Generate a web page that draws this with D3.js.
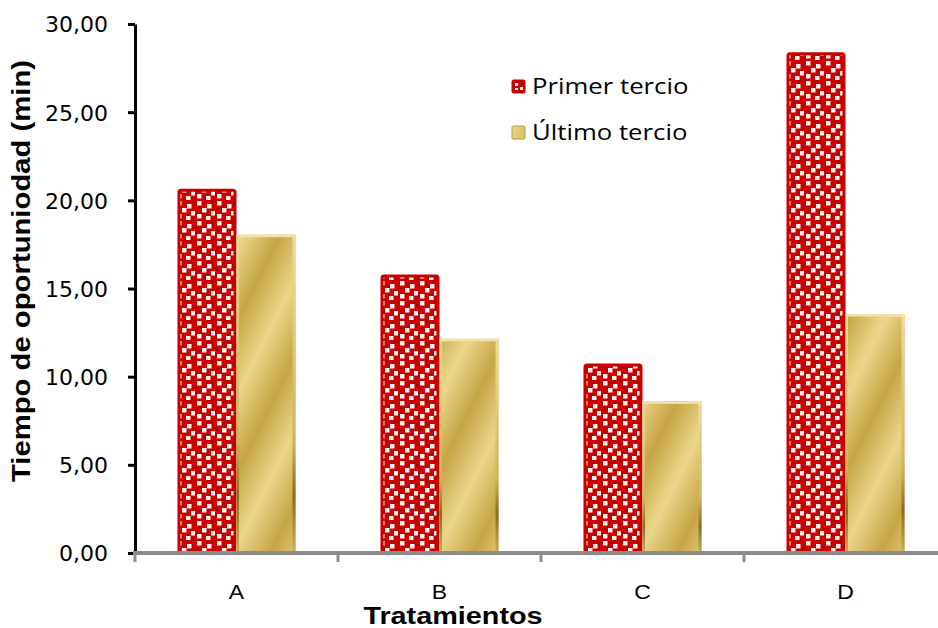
<!DOCTYPE html>
<html>
<head>
<meta charset="utf-8">
<script src="https://cdn.jsdelivr.net/npm/d3@7"></script>
<style>
  html, body { margin: 0; padding: 0; background: #fff; }
  svg { display: block; }
</style>
</head>
<body>
<svg id="chart"></svg>
<script>
// data
const categories = ["A", "B", "C", "D"];
const series = ["Primer tercio", "Último tercio"];
const primerTercio = [20.65, 15.8, 10.75, 28.4];
const ultimoTercio = [18.05, 12.15, 8.6, 13.55];
const yTicks = [0, 5, 10, 15, 20, 25, 30];

const width = 938, height = 628;
const svg = d3.select("#chart").attr("width", width).attr("height", height);
const defs = svg.append("defs");

// red confetti pattern
const pat = defs.append("pattern")
	.attr("id", "dots")
	.attr("patternUnits", "userSpaceOnUse")
	.attr("width", 20).attr("height", 20);
pat.append("rect").attr("width", 20).attr("height", 20).attr("fill", "#c80000");
[[2, 1], [12, 4], [7, 8], [16, 11], [2, 14], [11, 16]].forEach(p =>
	pat.append("rect").attr("x", p[0]).attr("y", p[1]).attr("width", 4.5).attr("height", 4.5)
		.attr("fill", "#fff2f2"));

// gold diagonal gradient
const gold = defs.append("linearGradient")
	.attr("id", "gold")
	.attr("gradientUnits", "userSpaceOnUse")
	.attr("x1", 0).attr("y1", 0).attr("x2", 30).attr("y2", 15)
	.attr("spreadMethod", "reflect");
[["0%", "#ead68a"], ["100%", "#c6a546"]].forEach(s =>
	gold.append("stop").attr("offset", s[0]).attr("stop-color", s[1]));

const goldEdge = defs.append("linearGradient")
	.attr("id", "goldEdge").attr("x1", 0).attr("y1", 0).attr("x2", 0).attr("y2", 1);
[["0%", "#f0dc98"], ["65%", "#d2b258"], ["82%", "#8a6a1e"], ["100%", "#d0ae55"]].forEach(s =>
	goldEdge.append("stop").attr("offset", s[0]).attr("stop-color", s[1]));

// scales
const x = d3.scaleBand().domain(categories).range([135, 135 + 4 * 203]).paddingInner(0).paddingOuter(0);
const xs = d3.scaleBand().domain(series).range([0, x.bandwidth()]).paddingInner(0).paddingOuter(0.72);
const y = d3.scaleLinear().domain([0, 30]).range([553, 24]);

const rows = categories.map((c, i) => ({ cat: c, vals: [primerTercio[i], ultimoTercio[i]] }));

const groups = svg.selectAll(".grp")
	.data(rows)
	.join("g")
	.attr("class", "grp")
	.attr("transform", d => `translate(${x(d.cat)},0)`);

// red bars
groups.append("rect")
	.attr("x", xs(series[0]) + 1.5)
	.attr("y", d => y(d.vals[0]) + 1.5)
	.attr("width", xs.bandwidth() - 3)
	.attr("height", d => y(0) - y(d.vals[0]) - 1.5)
	.attr("rx", 2)
	.attr("fill", "url(#dots)")
	.attr("stroke", "#c80000")
	.attr("stroke-width", 3);

// gold bars
groups.append("rect")
	.attr("x", xs(series[1]))
	.attr("y", d => y(d.vals[1]))
	.attr("width", xs.bandwidth())
	.attr("height", d => y(0) - y(d.vals[1]))
	.attr("fill", "url(#gold)");
groups.append("rect")
	.attr("x", xs(series[1]))
	.attr("y", d => y(d.vals[1]))
	.attr("width", 2.5)
	.attr("height", d => y(0) - y(d.vals[1]))
	.attr("fill", "url(#goldEdge)");
groups.append("rect")
	.attr("x", xs(series[1]) + xs.bandwidth() - 3)
	.attr("y", d => y(d.vals[1]))
	.attr("width", 3)
	.attr("height", d => y(0) - y(d.vals[1]))
	.attr("fill", "url(#goldEdge)");
groups.append("rect")
	.attr("x", xs(series[1]))
	.attr("y", d => y(d.vals[1]))
	.attr("width", xs.bandwidth())
	.attr("height", 2.5)
	.attr("fill", "#f5e2a8");

// y axis
const yAxis = svg.append("g")
	.attr("transform", "translate(135,0)")
	.call(d3.axisLeft(y).tickValues(yTicks).tickSize(7).tickSizeOuter(0)
		.tickFormat(d => d3.format(".2f")(d).replace(".", ",")));
yAxis.select(".domain").attr("stroke", "#000").attr("stroke-width", 3);
yAxis.selectAll(".tick line").attr("stroke", "#000").attr("stroke-width", 3);
yAxis.selectAll(".tick text")
	.attr("x", -27)
	.attr("dy", "0.36em")
	.attr("font-family", "DejaVu Sans")
	.attr("font-size", 22)
	.attr("fill", "#000");

// x axis
const xAxis = svg.append("g")
	.attr("transform", "translate(0,553)");
xAxis.append("line")
	.attr("x1", 133).attr("x2", width).attr("y1", 0).attr("y2", 0)
	.attr("stroke", "#8c8c8c").attr("stroke-width", 4);
xAxis.selectAll(".xt")
	.data(categories.concat(["end"]))
	.join("line")
	.attr("class", "xt")
	.attr("x1", (d, i) => 135 + i * x.step())
	.attr("x2", (d, i) => 135 + i * x.step())
	.attr("y1", 0).attr("y2", 9)
	.attr("stroke", "#8c8c8c").attr("stroke-width", 3);
xAxis.selectAll(".xl")
	.data(categories)
	.join("text")
	.attr("class", "xl")
	.attr("transform", d => `translate(${x(d) + x.bandwidth() / 2},46) scale(1.15,1)`)
	.attr("text-anchor", "middle")
	.attr("font-family", "Liberation Sans")
	.attr("font-size", 20)
	.text(d => d);

// axis titles
svg.append("text")
	.attr("transform", "translate(453,624) scale(1.2,1)")
	.attr("text-anchor", "middle")
	.attr("font-family", "Liberation Sans")
	.attr("font-weight", "bold")
	.attr("font-size", 24)
	.text("Tratamientos");

svg.append("text")
	.attr("transform", "translate(30,271) rotate(-90) scale(1.22,1.1)")
	.attr("text-anchor", "middle")
	.attr("font-family", "Liberation Sans")
	.attr("font-weight", "bold")
	.attr("font-size", 24)
	.text("Tiempo de oportuniodad (min)");

// legend
const legend = svg.append("g").attr("transform", "translate(512,80)");
const li = legend.selectAll(".li")
	.data(series)
	.join("g")
	.attr("class", "li")
	.attr("transform", (d, i) => `translate(0,${i * 46})`);
li.append("rect")
	.attr("width", 13).attr("height", 13)
	.attr("rx", 1.5)
	.attr("fill", (d, i) => i === 0 ? "#c80000" : "url(#gold)")
	.attr("stroke", (d, i) => i === 0 ? "#c80000" : "#b8963a");
li.filter((d, i) => i === 0).append("path")
	.attr("d", "M3,3h3v3h-3zM8,7h3v3h-3zM3,8h3v2h-3z")
	.attr("fill", "#fff");
li.append("text")
	.attr("transform", "translate(20,14) scale(1.17,1)")
	.attr("font-family", "Open Sans")
	.attr("font-size", 22)
	.text(d => d);
</script>
</body>
</html>
